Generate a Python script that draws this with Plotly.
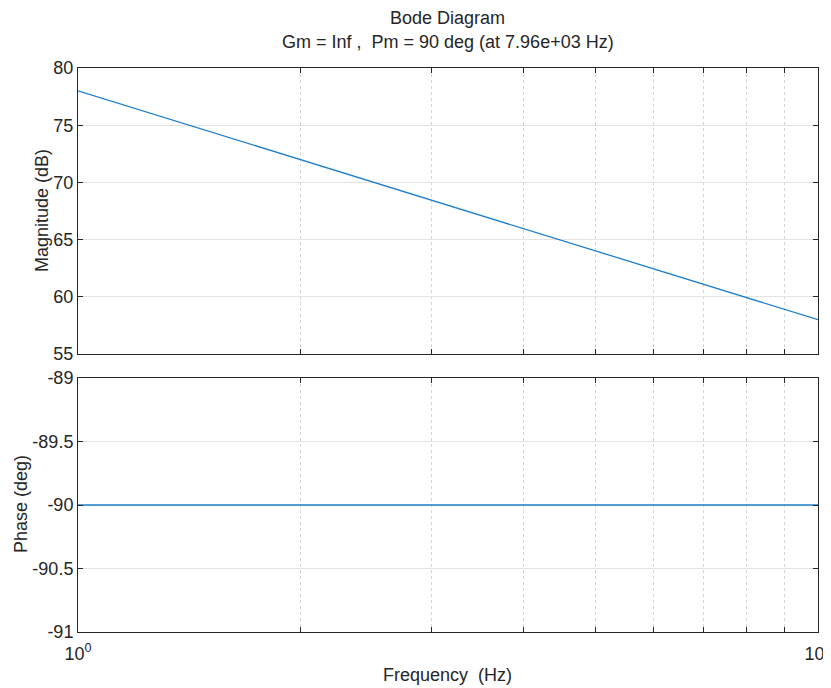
import plotly.graph_objects as go

freq_hz = [1, 10]
magnitude_db = [78.0, 58.0]
phase_deg = [-90.0, -90.0]

x_tickvals = [1, 2, 3, 4, 5, 6, 7, 8, 9, 10]
x_ticktext = ["10<sup>0</sup>", "", "", "", "", "", "", "", "", "10<sup>1</sup>"]
mag_ticks = [55, 60, 65, 70, 75, 80]
phase_ticks = [-91, -90.5, -90, -89.5, -89]
phase_ticktext = ["-91", "-90.5", "-90", "-89.5", "-89"]

title_line1 = "Bode Diagram"
title_line2 = "Gm = Inf ,  Pm = 90 deg (at 7.96e+03 Hz)"
mag_title = "Magnitude (dB)"
phase_title = "Phase (deg)"
freq_title = "Frequency  (Hz)"

line_color = "#1f7fcc"
txt = "#262626"
FS = 18
font = dict(family="Liberation Sans, Arial, sans-serif", size=FS, color=txt)

# page body has an 8px margin, so the figure is offset by 8px in the window
OFF = 8
W, H = 831, 688 - OFF
L, R, T, B = 78 - OFF, 831 - (818 - OFF), 68 - OFF, 56
PW, PH = W - L - R, H - T - B


def px_x(px):
    return (px - OFF - L) / PW


def px_y(py):
    return (H - B - (py - OFF)) / PH


fig = go.Figure()
fig.add_trace(go.Scatter(x=freq_hz, y=magnitude_db, mode="lines",
                         line=dict(color=line_color, width=1.3),
                         xaxis="x", yaxis="y", showlegend=False))
fig.add_trace(go.Scatter(x=freq_hz, y=phase_deg, mode="lines",
                         line=dict(color=line_color, width=1.3),
                         xaxis="x2", yaxis="y2", showlegend=False))

common_x = dict(type="log", range=[0, 1], tickvals=x_tickvals, automargin=False,
                showgrid=True, gridcolor="#d4d4d4", griddash="dot", gridwidth=1,
                showline=True, linecolor=txt, linewidth=1, mirror="allticks",
                ticks="inside", ticklen=5, tickcolor=txt, zeroline=False,
                tickfont=dict(size=FS), ticklabeloverflow="allow")
common_y = dict(showgrid=True, gridcolor="#e3e3e3", gridwidth=1, automargin=False,
                showline=True, linecolor=txt, linewidth=1, mirror="allticks",
                ticks="inside", ticklen=5, tickcolor=txt, zeroline=False,
                tickfont=dict(size=FS))

ann_font = dict(family="Liberation Sans, Arial, sans-serif", size=FS, color=txt)

fig.update_layout(
    width=W, height=H,
    margin=dict(l=L, r=R, t=T, b=B),
    paper_bgcolor="white", plot_bgcolor="white",
    font=font,
    xaxis=dict(**common_x, domain=[0, 1], anchor="y", showticklabels=False, matches="x2"),
    yaxis=dict(**common_y, domain=[px_y(354), 1], range=[55, 80], tickvals=mag_ticks),
    xaxis2=dict(**common_x, domain=[0, 1], anchor="y2", ticktext=x_ticktext,
                ticklabelstandoff=5),
    yaxis2=dict(**common_y, domain=[0, px_y(378)], range=[-91, -89], tickvals=phase_ticks,
                ticktext=phase_ticktext),
    annotations=[
        dict(text=title_line1, xref="paper", yref="paper", x=px_x(447), y=px_y(18),
             xanchor="center", yanchor="middle", showarrow=False, font=ann_font),
        dict(text=title_line2, xref="paper", yref="paper", x=px_x(448), y=px_y(42),
             xanchor="center", yanchor="middle", showarrow=False, font=ann_font),
        dict(text=mag_title, xref="paper", yref="paper", x=px_x(42), y=px_y(211),
             xanchor="center", yanchor="middle", textangle=-90, showarrow=False, font=ann_font),
        dict(text=phase_title, xref="paper", yref="paper", x=px_x(21), y=px_y(504),
             xanchor="center", yanchor="middle", textangle=-90, showarrow=False, font=ann_font),
        dict(text=freq_title, xref="paper", yref="paper", x=px_x(447), y=px_y(675),
             xanchor="center", yanchor="middle", showarrow=False, font=ann_font),
    ],
)

fig.write_html("out.html")
